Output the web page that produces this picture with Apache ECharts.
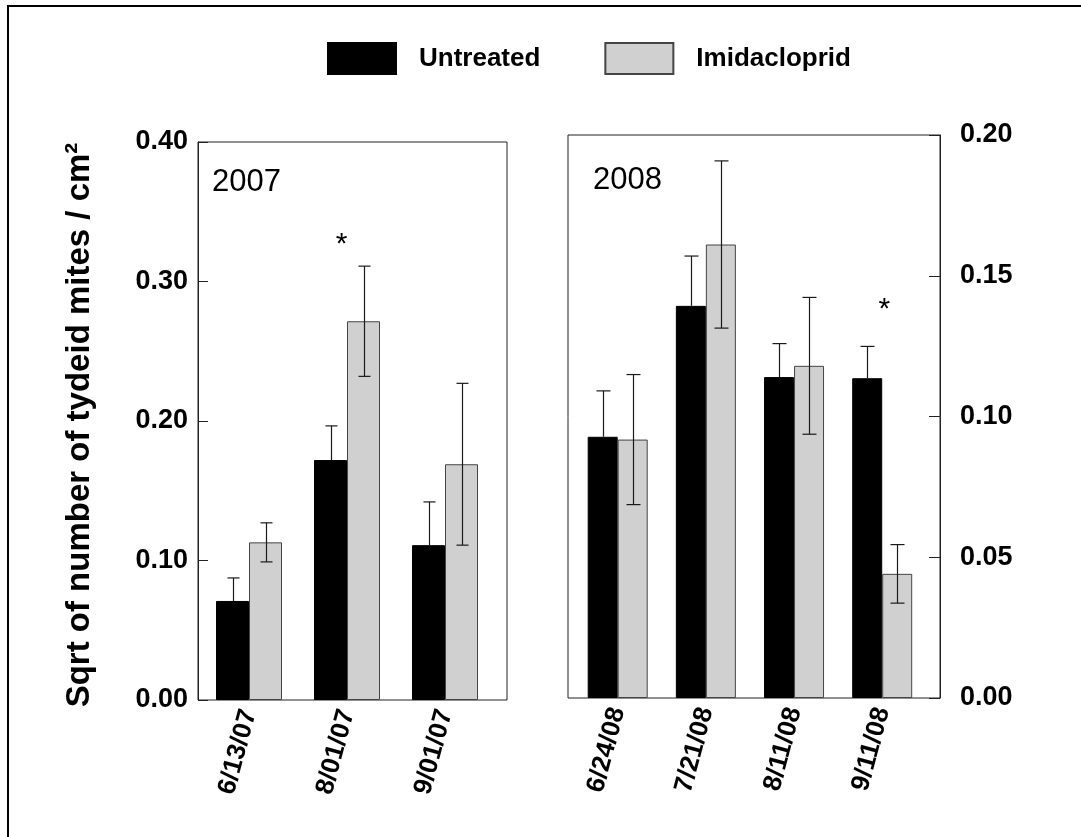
<!DOCTYPE html>
<html>
<head>
<meta charset="utf-8">
<script src="https://cdn.jsdelivr.net/npm/echarts@6/dist/echarts.min.js"></script>
<style>
html,body{margin:0;padding:0;background:#fff;}
#chart{width:1081px;height:837px;}
</style>
</head>
<body>
<div id="chart"></div>
<script>
// ---------- data ----------
const cats2007 = ['6/13/07', '8/01/07', '9/01/07'];
const untreated2007 = [0.071, 0.172, 0.111];
const untreated2007Err = [0.0165, 0.0245, 0.031];
const imid2007 = [0.113, 0.2715, 0.169];
const imid2007Err = [0.014, 0.0395, 0.058];

const cats2008 = ['6/24/08', '7/21/08', '8/11/08', '9/11/08'];
const untreated2008 = [0.0928, 0.1393, 0.1140, 0.1136];
const untreated2008Err = [0.0163, 0.0177, 0.0119, 0.0113];
const imid2008 = [0.0918, 0.1611, 0.1180, 0.0441];
const imid2008Err = [0.0231, 0.0297, 0.0243, 0.0104];

const sig2007 = [['8/01/07', 0.326]];
const sig2008 = [['9/11/08', 0.138]];

const ticks2007 = [0, 0.4, 0.1];
const ticks2008 = [0, 0.2, 0.05];

const seriesNames = ['Untreated', 'Imidacloprid'];
const yTitle = 'Sqrt of number of tydeid mites / cm\u00B2';
const panelTitles = ['2007', '2008'];

// ---------- styles ----------
const FONT = '"Liberation Sans", Arial, Helvetica, sans-serif';
const BLACK = '#000000';
const GRAY = '#d0d0d0';
const FRAME = '#222222';
const BW_L = 33, BW_R = 30;

function errData(cats, means, errs, both) {
  return cats.map((c, i) => [i, both ? means[i] - errs[i] : means[i], means[i] + errs[i]]);
}
function errSeries(data, xi, yi, offset, halfCap, both) {
  return {
    type: 'custom', xAxisIndex: xi, yAxisIndex: yi, z: 5, silent: true,
    data: data,
    renderItem: function (params, api) {
      const idx = api.value(0);
      const x = Math.round(api.coord([idx, 0])[0] + offset) + 0.5;
      const yl = api.coord([idx, api.value(1)])[1];
      const yh = api.coord([idx, api.value(2)])[1];
      const st = { stroke: '#1a1a1a', lineWidth: 1.2 };
      const ch = [
        { type: 'line', shape: { x1: x, y1: yl, x2: x, y2: yh }, style: st },
        { type: 'line', shape: { x1: x - halfCap, y1: yh, x2: x + halfCap, y2: yh }, style: st }
      ];
      if (both) ch.push({ type: 'line', shape: { x1: x - halfCap, y1: yl, x2: x + halfCap, y2: yl }, style: st });
      return { type: 'group', children: ch };
    }
  };
}
function starMark(list, dx) {
  return {
    silent: true,
    symbol: 'circle', symbolSize: 1,
    itemStyle: { color: 'rgba(0,0,0,0)' },
    label: { show: true, position: 'inside', formatter: '*', fontSize: 30, fontFamily: FONT, color: '#000', offset: [dx, 0] },
    data: list.map(s => ({ coord: [s[0], s[1]] }))
  };
}

const yLabel = { fontFamily: FONT, fontWeight: 'bold', fontSize: 27, color: '#000',
  formatter: v => v.toFixed(2) };
const xLabel = { rotate: 75, margin: 10, fontFamily: FONT, fontWeight: 'bold', fontSize: 26, color: '#000', interval: 0 };

const chart = echarts.init(document.getElementById('chart'), null, { renderer: 'canvas' });
chart.setOption({
  animation: false,
  backgroundColor: '#ffffff',
  textStyle: { fontFamily: FONT },
  title: [
    { text: panelTitles[0], left: 212, top: 167, padding: 0,
      textStyle: { fontFamily: FONT, fontWeight: 'normal', fontSize: 31, color: '#000' } },
    { text: panelTitles[1], left: 593, top: 165, padding: 0,
      textStyle: { fontFamily: FONT, fontWeight: 'normal', fontSize: 31, color: '#000' } }
  ],
  legend: {
    data: seriesNames, left: 327, top: 42, padding: 0,
    itemWidth: 68, itemHeight: 31, itemGap: 64, icon: 'rect', selectedMode: false,
    textStyle: { fontFamily: FONT, fontWeight: 'bold', fontSize: 26, color: '#000', padding: [0, 0, 0, 18] }
  },
  graphic: [
    { type: 'rect', z: 100, silent: true, shape: { x: 8, y: 6, width: 1200, height: 1000 },
      style: { fill: 'none', stroke: '#000', lineWidth: 2 } },
    { type: 'text', z: 100, silent: true, x: 80, y: 425, rotation: Math.PI / 2,
      style: { text: yTitle, fontFamily: FONT, fontWeight: 'bold', fontSize: 33, fill: '#000',
        align: 'center', verticalAlign: 'middle' } }
  ],
  grid: [
    { left: 198, top: 142, width: 309, height: 558, show: true, borderColor: FRAME, borderWidth: 1, backgroundColor: 'transparent' },
    { left: 200, top: 142, width: 294, height: 558 },
    { left: 568, top: 135, width: 372, height: 563, show: true, borderColor: FRAME, borderWidth: 1, backgroundColor: 'transparent' },
    { left: 573.6, top: 135, width: 352.7, height: 563 }
  ],
  xAxis: [
    { gridIndex: 0, type: 'category', data: cats2007, show: false },
    { gridIndex: 1, type: 'category', data: cats2007,
      axisLine: { show: false }, axisTick: { show: false }, axisLabel: xLabel },
    { gridIndex: 2, type: 'category', data: cats2008, show: false },
    { gridIndex: 3, type: 'category', data: cats2008,
      axisLine: { show: false }, axisTick: { show: false }, axisLabel: xLabel }
  ],
  yAxis: [
    { gridIndex: 0, type: 'value', position: 'left', min: ticks2007[0], max: ticks2007[1], interval: ticks2007[2],
      axisLine: { show: true, lineStyle: { color: FRAME } },
      axisTick: { show: true, inside: true, length: 10, lineStyle: { color: FRAME } },
      splitLine: { show: false },
      axisLabel: Object.assign({ margin: 10 }, yLabel) },
    { gridIndex: 1, type: 'value', min: ticks2007[0], max: ticks2007[1], interval: ticks2007[2], show: false, splitLine: { show: false } },
    { gridIndex: 2, type: 'value', position: 'right', min: ticks2008[0], max: ticks2008[1], interval: ticks2008[2],
      axisLine: { show: true, lineStyle: { color: FRAME } },
      axisTick: { show: true, inside: true, length: 11, lineStyle: { color: FRAME } },
      splitLine: { show: false },
      axisLabel: Object.assign({ margin: 20 }, yLabel) },
    { gridIndex: 3, type: 'value', min: ticks2008[0], max: ticks2008[1], interval: ticks2008[2], show: false, splitLine: { show: false } }
  ],
  series: [
    { name: seriesNames[0], type: 'bar', xAxisIndex: 1, yAxisIndex: 1, data: untreated2007,
      barWidth: BW_L, barGap: '0%', itemStyle: { color: BLACK, borderColor: BLACK, borderWidth: 1 } },
    { name: seriesNames[1], type: 'bar', xAxisIndex: 1, yAxisIndex: 1, data: imid2007,
      barWidth: BW_L, barGap: '0%', itemStyle: { color: GRAY, borderColor: '#444', borderWidth: 1 },
      markPoint: starMark(sig2007, -22) },
    { name: seriesNames[0], type: 'bar', xAxisIndex: 3, yAxisIndex: 3, data: untreated2008,
      barWidth: BW_R, barGap: '0%', itemStyle: { color: BLACK, borderColor: BLACK, borderWidth: 1 } },
    { name: seriesNames[1], type: 'bar', xAxisIndex: 3, yAxisIndex: 3, data: imid2008,
      barWidth: BW_R, barGap: '0%', itemStyle: { color: GRAY, borderColor: '#444', borderWidth: 1 },
      markPoint: starMark(sig2008, -13) },
    errSeries(errData(cats2007, untreated2007, untreated2007Err, false), 1, 1, -BW_L / 2, 6, false),
    errSeries(errData(cats2007, imid2007, imid2007Err, true), 1, 1, BW_L / 2, 6, true),
    errSeries(errData(cats2008, untreated2008, untreated2008Err, false), 3, 3, -BW_R / 2, 7, false),
    errSeries(errData(cats2008, imid2008, imid2008Err, true), 3, 3, BW_R / 2, 7, true)
  ]
});
</script>
</body>
</html>
